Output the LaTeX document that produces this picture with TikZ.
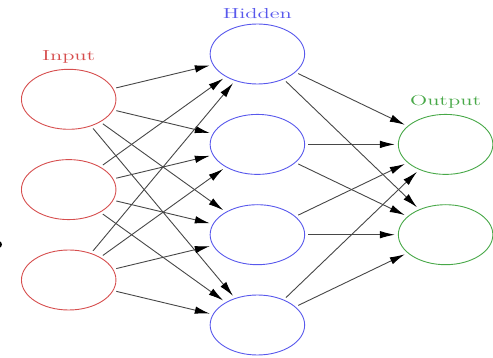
\documentclass[tikz,border=0pt]{standalone}
\usepackage{graphicx}
\usetikzlibrary{shapes.geometric,arrows.meta}
\definecolor{inred}{RGB}{214,78,78}
\definecolor{hidblue}{RGB}{88,88,236}
\definecolor{outgreen}{RGB}{72,168,72}
\begin{document}
\begin{tikzpicture}[x=1pt,y=-1pt,
  neuron/.style={ellipse,draw,line width=0.9pt,inner sep=0pt,minimum width=94.5pt,minimum height=60pt},
  inneuron/.style={neuron,draw=inred},
  hidneuron/.style={neuron,draw=hidblue},
  outneuron/.style={neuron,draw=outgreen},
  layerlabel/.style={anchor=base,inner sep=0pt,font=\fontsize{14.5}{17}\selectfont},
  conn/.style={draw=black!72,line width=0.9pt,shorten <=3pt,shorten >=3pt,-{Latex[length=15pt,width=7.5pt,color=black]}}
]
\useasboundingbox (0,0) rectangle (493,358);
% stray dot at left edge
\fill[black] (-1.5,244.5) circle (3.5pt);
% nodes
\node[inneuron] (i1) at (68.7,99.3) {};
\node[inneuron] (i2) at (68.7,189.6) {};
\node[inneuron] (i3) at (68.7,280) {};
\node[hidneuron] (h1) at (257.4,54) {};
\node[hidneuron] (h2) at (257.4,144.4) {};
\node[hidneuron] (h3) at (257.4,234.7) {};
\node[hidneuron] (h4) at (257.4,325) {};
\node[outneuron] (o1) at (445.6,144.4) {};
\node[outneuron] (o2) at (445.6,234.7) {};
% labels
\node[layerlabel,text=inred] (li) at (68.7,61) {\scalebox{1.55}[1]{Input}};
\node[layerlabel,text=hidblue] (lh) at (257.4,18.5) {\scalebox{1.55}[1]{Hidden}};
\node[layerlabel,text=outgreen] (lo) at (445.6,105.5) {\scalebox{1.55}[1]{Output}};
% connections
\foreach \i in {1,2,3}{
  \foreach \h in {1,2,3,4}{
    \draw[conn] (i\i) -- (h\h);
  }
}
\foreach \h in {1,2,3,4}{
  \foreach \o in {1,2}{
    \draw[conn] (h\h) -- (o\o);
  }
}
\end{tikzpicture}
\end{document}
